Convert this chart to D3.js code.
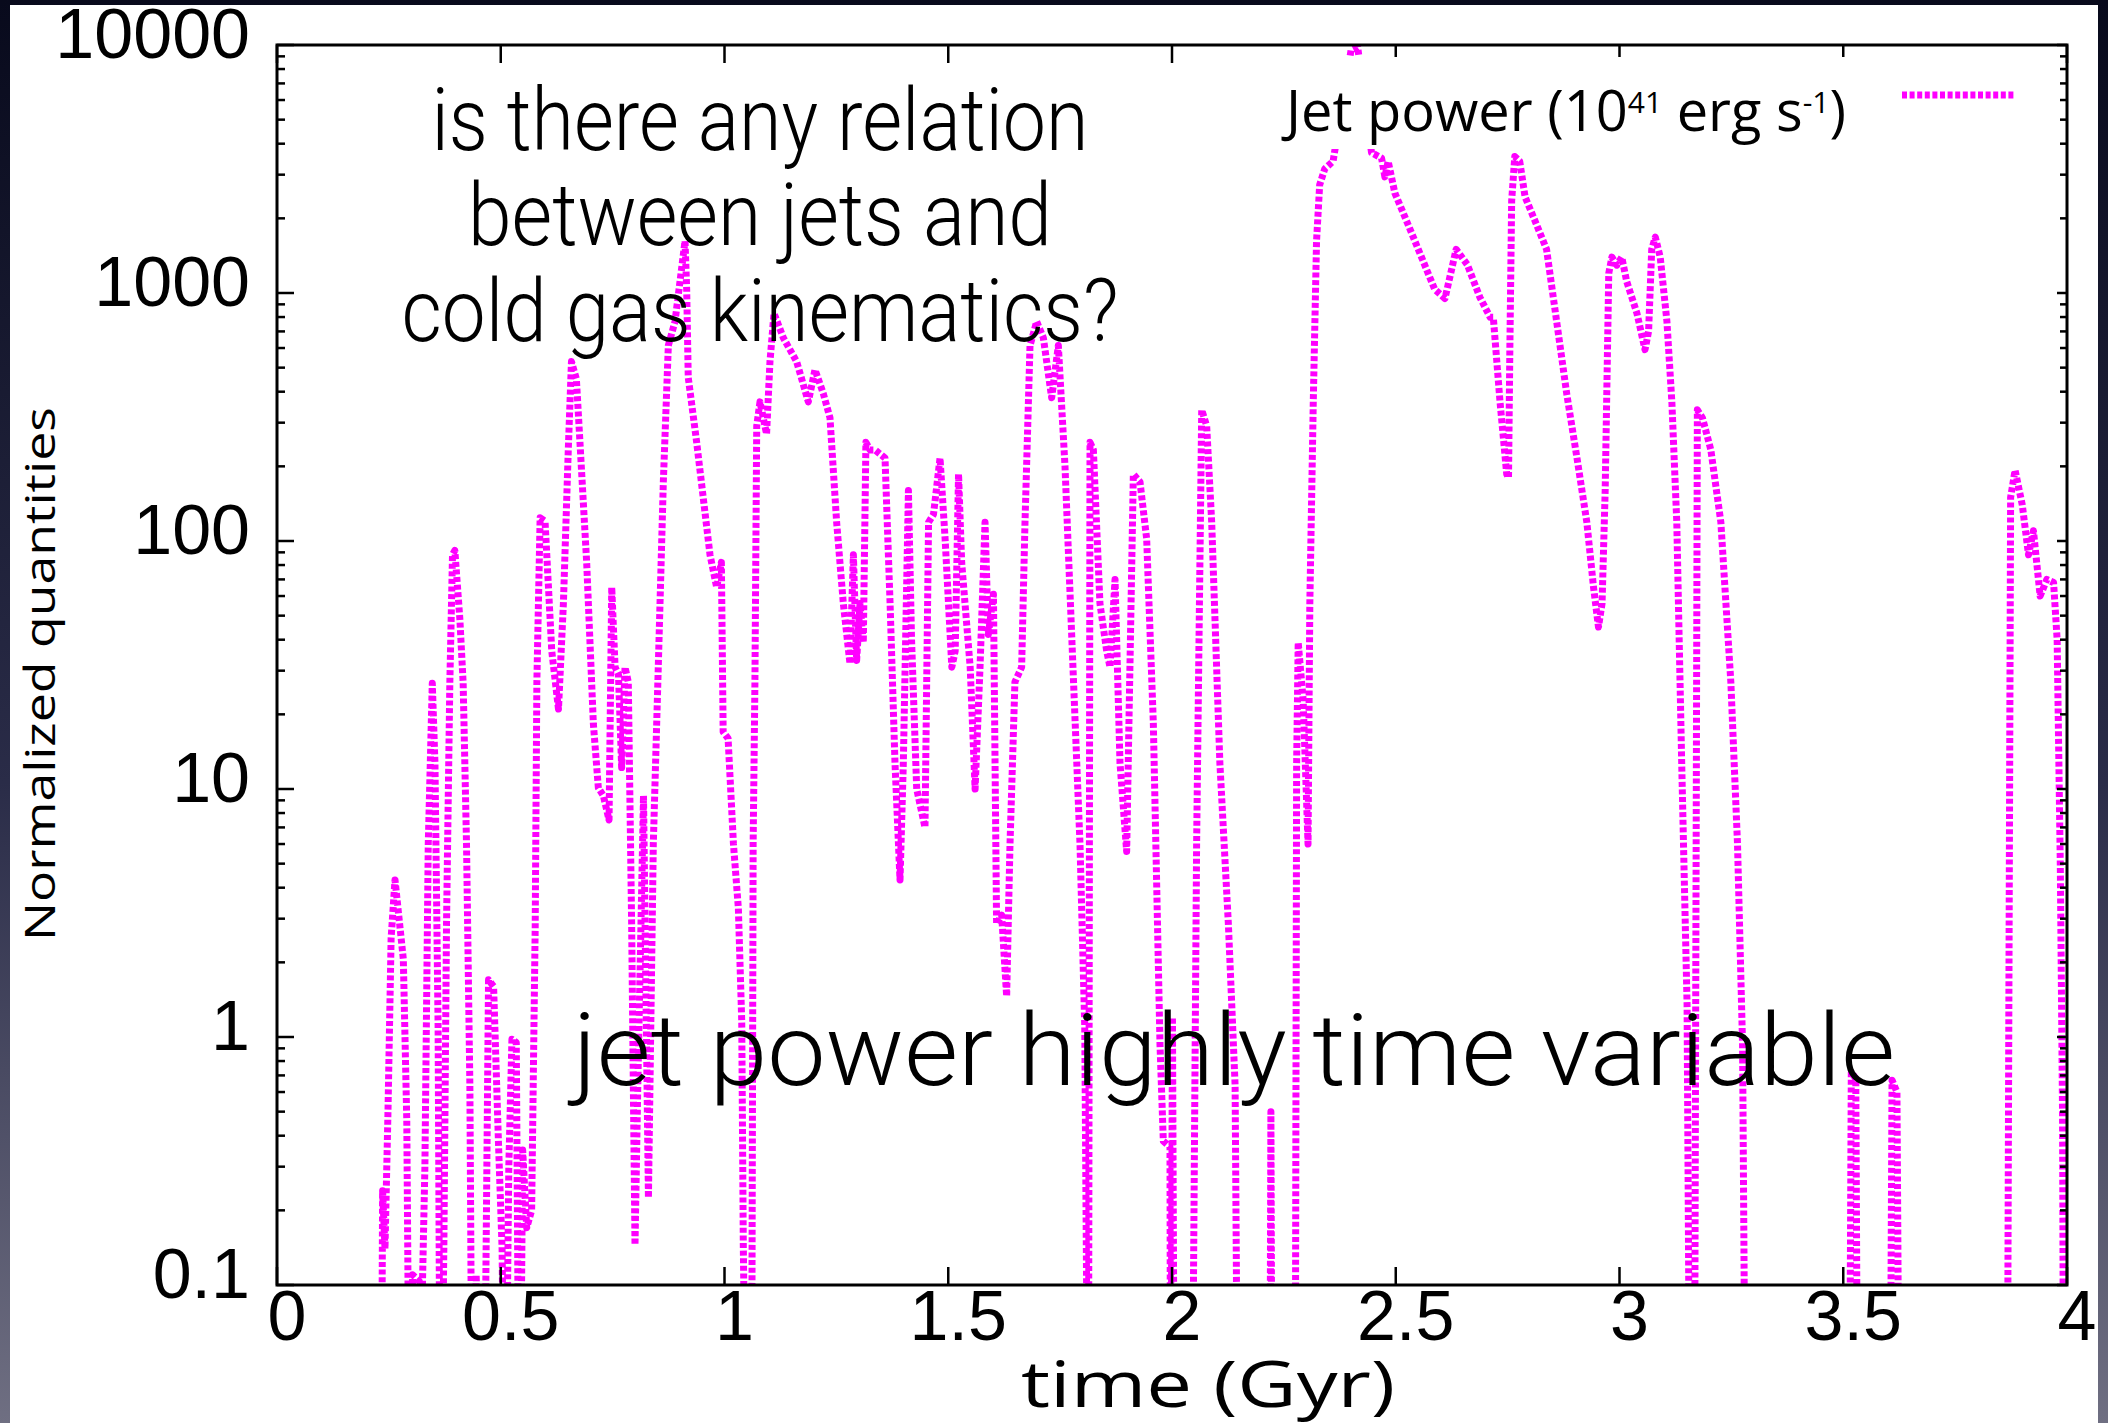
<!DOCTYPE html>
<html><head><meta charset="utf-8">
<script src="https://cdn.jsdelivr.net/npm/d3@7/dist/d3.min.js"></script>
<style>html,body{margin:0;padding:0;background:#fff;overflow:hidden}</style>
</head><body>
<svg id="chart" width="2108" height="1423" xmlns="http://www.w3.org/2000/svg"></svg>
<script>
// ---- data (time in Gyr, jet power in 1e41 erg/s; 0.01 = below plotted range) ----
const times = [0.2324,0.236,0.2413,0.248,0.255,0.2637,0.2823,0.29,0.297,0.303,0.315,0.325,0.3305,0.338,0.347,0.353,0.36,0.3654,0.3729,0.3788,0.3862,0.3922,0.3974,0.4086,0.416,0.4235,0.431,0.437,0.445,0.4616,0.4727,0.484,0.495,0.503,0.5096,0.518,0.525,0.5347,0.542,0.549,0.558,0.569,0.577,0.5807,0.588,0.599,0.614,0.629,0.640,0.651,0.658,0.669,
0.677,0.692,0.7069,0.7181,0.7293,0.742,0.748,0.7555,0.763,0.7702,0.7777,0.785,0.7925,0.80,0.806,0.819,0.830,0.8409,0.852,0.8633,0.8745,0.8894,0.9118,0.9155,0.919,0.9378,0.9676,0.9825,0.993,0.997,1.008,1.020,1.031,1.0385,1.042,1.05,1.06,1.064,1.068,1.072,1.0793,1.094,1.1016,1.1106,1.1314,1.1612,1.1873,1.2022,1.2208,1.2357,1.2506,1.2655,1.2804,1.288,1.2953,1.3028,1.3102,1.316,1.3251,
1.3363,1.3587,1.370,1.381,1.3922,1.3996,1.411,1.418,1.4295,1.448,1.456,1.467,1.4816,1.493,1.508,1.5155,1.523,1.530,1.549,1.560,1.571,1.5822,1.5896,1.601,1.608,1.6194,1.6305,1.638,1.649,1.664,1.6715,1.6827,1.6976,1.7125,1.7311,1.746,1.7609,1.780,1.7944,1.805,1.8131,1.8168,1.8243,1.839,1.854,1.8615,1.8727,1.8838,1.8987,1.9136,1.9285,1.9434,1.9583,1.9732,1.9806,1.9955,1.997,2.001,2.006,
2.044,2.055,2.0664,2.0775,2.0887,2.107,2.126,2.141,2.148,2.218,2.221,2.224,2.275,2.2785,2.282,2.293,2.304,2.308,2.3157,2.323,2.330,2.3414,2.36,2.385,2.40,2.415,2.43,2.4459,2.4683,2.4757,2.483,2.498,2.528,2.5575,2.587,2.61,2.635,2.66,2.688,2.711,2.718,2.733,2.748,2.752,2.755,2.759,2.766,2.777,2.789,2.815,2.837,2.8596,2.882,2.905,2.927,2.942,2.953,2.961,2.968,2.976,2.983,2.994,3.005,3.016,3.039,3.057,3.065,3.072,3.08,3.091,3.106,3.117,3.128,3.139,3.151,3.158,3.167,3.174,3.1855,3.2041,3.2265,3.2488,3.2637,3.275,3.2824,
3.513,3.518,3.528,3.533,3.604,3.609,3.62,3.626,3.866,3.874,3.884,3.9,3.914,3.925,3.94,3.955,3.97,3.978,3.985,3.99,3.993];
const jetPower = [0.01,0.24,0.14,0.5,2.5,4.3,2.06,0.46,0.01,0.11,0.105,0.1,0.3,6,26.7,12.7,1.1,0.01,0.145,2.85,26.7,88,91.6,48.5,26.7,6,0.64,0.01,0.11,0.01,1.7,1.6,0.37,0.14,0.01,0.3,0.98,0.95,0.01,0.35,0.17,0.2,2.8,27,124,120,36,21,56,236,529,450,
250,82,18.4,10.1,9.4,7.5,65,31,29,12.2,31,27,2.85,0.145,0.6,9.4,0.225,6,31,173,614,767,1620,1035,456,250,88,65,82,17,16,6,3.3,1.16,0.145,0.01,0.01,6,27,291,364,270,529,828,660,529,364,491,393,314,119,56,32,88,33,56,39,250,233,
233,216,56,12.7,4.3,12.7,160,40,10,7,119,128,216,102,31,36,186,82,31,10,31,119,42,61,2.85,3.1,1.46,6,27,31,119,614,767,660,378,614,200,27,6,1.1,0.01,250,233,56,36,31,70,12.7,5.6,186,173,102,18.4,0.93,0.38,0.36,0.01,1.2,0.01,
0.01,6,338,291,119,12.7,2.85,0.64,0.01,0.01,0.5,0.01,0.01,12.7,39,23,6,56,364,1620,2730,3170,3400,6500,9500,9800,6000,3680,3500,2940,3400,2530,1880,1395,1035,950,1500,1300,961,798,798,364,186,180,600,2350,3550,3400,2440,1880,1500,767,393,216,119,65,45,56,160,1200,1395,1295,1395,1115,828,591,700,1500,1680,1395,767,364,119,12.7,1.35,0.01,0.01,338,313,233,119,27,6,0.93,0.01,
0.01,0.72,0.68,0.01,0.01,0.67,0.6,0.01,0.01,150,193,140,88,110,60,70,68,40,5,0.5,0.01];

const xTicks = [0,0.5,1,1.5,2,2.5,3,3.5,4];
const xTickLabels = ["0","0.5","1","1.5","2","2.5","3","3.5","4"];
const yTicks = [0.1,1,10,100,1000,10000];
const yTickLabels = ["0.1","1","10","100","1000","10000"];
const titleLines = ["is there any relation","between jets and","cold gas kinematics?"];
const annotationText = "jet power highly time variable";
const xLabel = "time (Gyr)";
const yLabel = "Normalized quantities";
const seriesName = ["Jet power (10","41"," erg s","-1",")"];

// ---- layout ----
const W = 2108, H = 1423;
const L = 277, R = 2067, T = 45, B = 1285;
const svg = d3.select("#chart");

const defs = svg.append("defs");
const grad = defs.append("linearGradient").attr("id","frame").attr("x1",0).attr("y1",0).attr("x2",0).attr("y2",1);
grad.append("stop").attr("offset","0%").attr("stop-color","#080a1c");
grad.append("stop").attr("offset","55%").attr("stop-color","#2a2c48");
grad.append("stop").attr("offset","100%").attr("stop-color","#6f6f82");
svg.append("rect").attr("width",W).attr("height",H).attr("fill","url(#frame)");
svg.append("rect").attr("x",10).attr("y",5).attr("width",2088).attr("height",H-5).attr("fill","#fff");

defs.append("clipPath").attr("id","plotclip").append("rect")
  .attr("x",L).attr("y",T).attr("width",R-L).attr("height",B-T);

const x = d3.scaleLinear().domain([0,4]).range([L,R]);
const y = d3.scaleLog().domain([0.1,10000]).range([B,T]);

// curve
const pts = times.map((t,i)=>[t, jetPower[i]]);
const line = d3.line().x(d=>x(d[0])).y(d=>y(Math.max(d[1],1e-3)));
svg.append("path").datum(pts)
  .attr("clip-path","url(#plotclip)")
  .attr("d",line).attr("fill","none").attr("stroke","#ff00ff")
  .attr("stroke-width",7).attr("stroke-dasharray","5,2.6").attr("stroke-linejoin","round");

// frame & ticks
const axes = svg.append("g").attr("stroke","#000").attr("fill","none");
axes.append("rect").attr("x",L).attr("y",T).attr("width",R-L).attr("height",B-T).attr("stroke-width",3);
xTicks.forEach(v=>{
  axes.append("line").attr("x1",x(v)).attr("x2",x(v)).attr("y1",B).attr("y2",B-18).attr("stroke-width",2.5);
  axes.append("line").attr("x1",x(v)).attr("x2",x(v)).attr("y1",T).attr("y2",T+18).attr("stroke-width",2.5);
});
const minor = [];
[0.1,1,10,100,1000].forEach(d=>{for(let m=2;m<=9;m++) minor.push(d*m);});
yTicks.forEach(v=>{
  axes.append("line").attr("x1",L).attr("x2",L+17).attr("y1",y(v)).attr("y2",y(v)).attr("stroke-width",2.5);
  axes.append("line").attr("x1",R).attr("x2",R-10).attr("y1",y(v)).attr("y2",y(v)).attr("stroke-width",2.5);
});
minor.forEach(v=>{
  axes.append("line").attr("x1",L).attr("x2",L+8).attr("y1",y(v)).attr("y2",y(v)).attr("stroke-width",2.5);
  axes.append("line").attr("x1",R).attr("x2",R-7).attr("y1",y(v)).attr("y2",y(v)).attr("stroke-width",2.5);
});

// tick labels
const tickFont = "'Liberation Sans', Arial, Helvetica, sans-serif";
svg.append("g").selectAll("text").data(xTicks).join("text")
  .attr("x",d=>x(d)+10).attr("y",1340).attr("text-anchor","middle")
  .attr("font-family",tickFont).attr("font-size",70).attr("fill","#000")
  .text((d,i)=>xTickLabels[i]);
svg.append("g").selectAll("text").data(yTicks).join("text")
  .attr("x",250).attr("y",d=>y(d)+13).attr("text-anchor","end")
  .attr("font-family",tickFont).attr("font-size",70).attr("fill","#000")
  .text((d,i)=>yTickLabels[i]);

// axis labels
const labFont = "'Open Sans', 'Noto Sans', sans-serif";
svg.append("text").attr("x",1021).attr("y",1407)
  .attr("font-family",labFont).attr("font-size",64).attr("fill","#000")
  .attr("textLength",374).attr("lengthAdjust","spacingAndGlyphs").text(xLabel);
svg.append("text").attr("transform","translate(55,941) rotate(-90)")
  .attr("font-family",labFont).attr("font-size",42).attr("fill","#000")
  .attr("textLength",534).attr("lengthAdjust","spacingAndGlyphs").text(yLabel);

// opaque key
svg.append("rect").attr("x",1272).attr("y",57).attr("width",590).attr("height",92).attr("fill","#fff");
const key = svg.append("text").attr("x",1286).attr("y",131)
  .attr("font-family",labFont).attr("font-size",56).attr("fill","#000");
key.append("tspan").text(seriesName[0]);
key.append("tspan").attr("font-size",30).attr("dy",-18).text(seriesName[1]);
key.append("tspan").attr("dy",18).text(seriesName[2]);
key.append("tspan").attr("font-size",30).attr("dy",-18).text(seriesName[3]);
key.append("tspan").attr("dy",18).text(seriesName[4]);
svg.append("line").attr("x1",1902).attr("x2",2016).attr("y1",95).attr("y2",95)
  .attr("stroke","#ff00ff").attr("stroke-width",7).attr("stroke-dasharray","5,2.6");

// overlay texts
const slideFont = "'Helvetica Neue', Roboto, Inter, 'Liberation Sans', sans-serif";
const titleBase = [150,245,341];
const titleLen = [657,584,717];
svg.append("g").selectAll("text").data(titleLines).join("text")
  .attr("x",760).attr("y",(d,i)=>titleBase[i]).attr("text-anchor","middle")
  .attr("font-family",slideFont).attr("font-weight",300).attr("font-size",88).attr("fill","#000")
  .attr("textLength",(d,i)=>titleLen[i]).attr("lengthAdjust","spacingAndGlyphs")
  .text(d=>d);
svg.append("text").attr("x",573).attr("y",1085)
  .attr("font-family",slideFont).attr("font-weight",300).attr("font-size",100).attr("fill","#000")
  .attr("textLength",1322).attr("lengthAdjust","spacingAndGlyphs").text(annotationText);
</script>
</body></html>
